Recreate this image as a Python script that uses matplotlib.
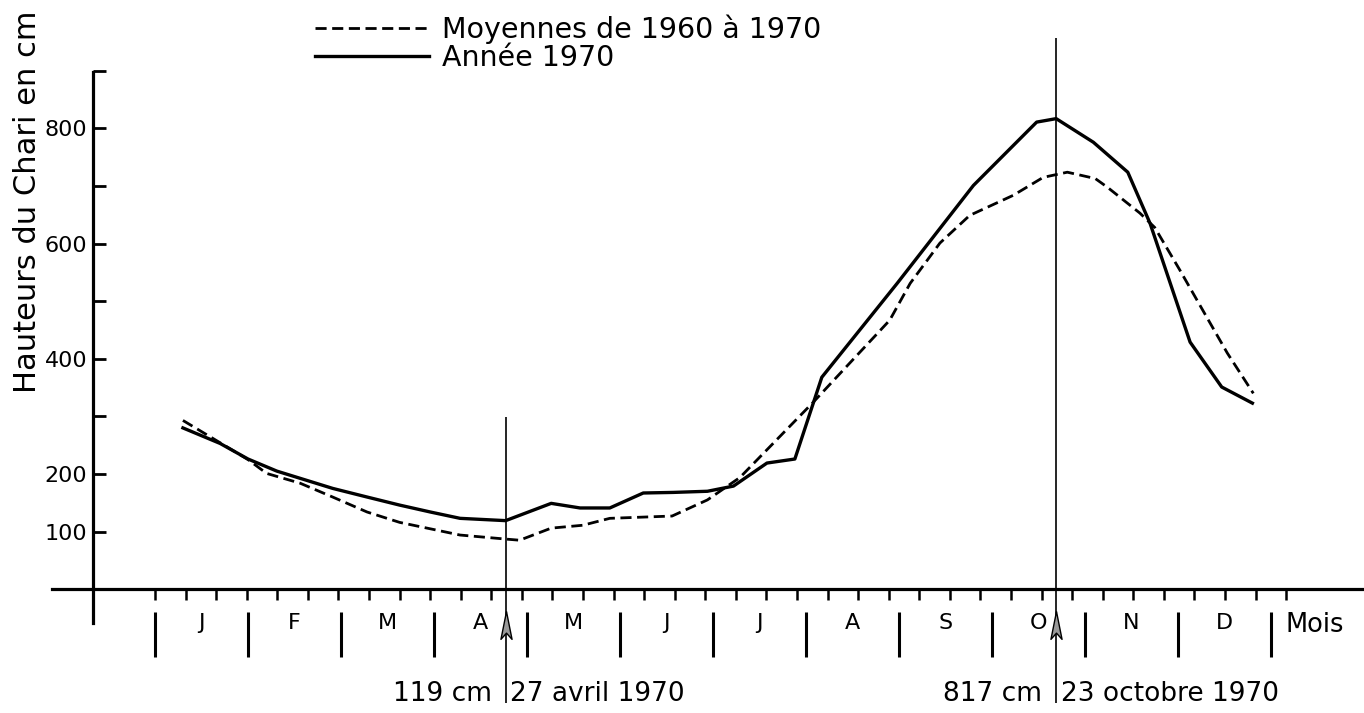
import matplotlib.pyplot as plt
import numpy as np

##### valeurs (x en mois depuis le 1er janvier, hauteurs en cm)
mois = ['J', 'F', 'M', 'A', 'M', 'J', 'J', 'A', 'S', 'O', 'N', 'D']

# Annee 1970 (trait plein)
an_x = [0.30, 0.70, 1.00, 1.31, 1.91, 2.28, 2.63, 2.96, 3.28, 3.77, 4.26, 4.57,
        4.89, 5.25, 5.57, 5.94, 6.22, 6.58, 6.88, 7.17, 7.98, 8.80, 9.48, 9.69,
        10.09, 10.46, 10.70, 11.13, 11.47, 11.80]
an_h = [280, 253, 226, 205, 175, 160, 146, 134, 123, 119, 149, 141,
        141, 167, 168, 170, 179, 219, 226, 368, 531, 701, 811, 817,
        776, 724, 635, 429, 351, 323]

# Moyennes de 1960 a 1970 (tirets)
moy_x = [0.30, 0.62, 1.00, 1.20, 1.56, 1.91, 2.28, 2.63, 3.28, 3.77, 3.92, 4.26,
         4.60, 4.89, 5.56, 5.94, 6.29, 7.08, 7.90, 8.12, 8.44, 8.76, 9.23, 9.55,
         9.81, 10.11, 10.24, 10.59, 10.75, 11.02, 11.31, 11.53, 11.81]
moy_h = [293, 262, 225, 201, 184, 160, 134, 116, 94, 87, 85, 106,
         111, 123, 127, 155, 194, 325, 467, 531, 601, 649, 684, 715,
         724, 713, 698, 653, 628, 554, 472, 410, 340]

# minimum et maximum de l'annee 1970
dates_x = [3.77, 9.69]
dates_cm = ['119 cm', '817 cm']
dates_txt = ['27 avril 1970', '23 octobre 1970']

yticks = [100, 200, 300, 400, 500, 600, 700, 800, 900]
ylabels = ['100', '200', '', '400', '', '600', '', '800', '']
##########################################################

fig = plt.figure(figsize=(13.64, 7.13), dpi=100)
ax = fig.add_axes([0, 0, 1, 1])
ax.set_xlim(-1.667, 13.0)
ax.set_ylim(-215, 1023)

# courbes
l1, = ax.plot(moy_x, moy_h, color='k', lw=2.0, ls=(0, (4, 2)),
              label='Moyennes de 1960 à 1970')
l2, = ax.plot(an_x, an_h, color='k', lw=2.4, label='Année 1970')

# axes en croix
for s in ['top', 'right']:
    ax.spines[s].set_visible(False)
ax.spines['left'].set_position(('data', -0.667))
ax.spines['left'].set_bounds(-59, 898)
ax.spines['bottom'].set_position(('data', 0))
ax.spines['bottom'].set_bounds(-1.108, 13.0)
ax.spines['left'].set_linewidth(2.3)
ax.spines['bottom'].set_linewidth(2.3)

ax.set_yticks(yticks)
ax.set_yticklabels(ylabels)
ax.tick_params(axis='y', direction='in', length=9, width=2, pad=4, labelsize=16)

# mois sous l'axe, petits traits tous les 10 jours
ax.set_xticks(np.arange(12) + 0.5)
ax.set_xticklabels(mois)
ax.set_xticks(np.arange(0, 371, 10) / 30.42, minor=True)
ax.tick_params(axis='x', which='major', length=0, pad=17, labelsize=16)
ax.tick_params(axis='x', which='minor', direction='out', length=8, width=1.8)
ax.vlines(np.arange(13), -118, -40, color='k', lw=2.2)
ax.text(12.47, -62, 'Mois', fontsize=18.5, ha='center', va='center')

# lignes du minimum et du maximum
ax.vlines(dates_x[0], -198, 299, color='k', lw=1.2)
ax.vlines(dates_x[1], -198, 957, color='k', lw=1.2)
fleche = [(0, 1), (-0.4, -1), (0, -0.55), (0.4, -1), (0, 1)]
ax.plot(dates_x, [-62, -62], ls='none', marker=fleche, ms=20,
        mfc='#999999', mec='k', mew=1.0)
for x, c, t in zip(dates_x, dates_cm, dates_txt):
    ax.text(x - 0.15, -182, c, fontsize=19, ha='right', va='center')
    ax.text(x + 0.05, -182, t, fontsize=19, ha='left', va='center')

ax.text(-1.366, 340, 'Hauteurs du Chari en cm', rotation=90, fontsize=22,
        ha='center', va='bottom')

ax.legend(handles=[l1, l2], loc='upper left', bbox_to_anchor=(315 / 1364, 1 - 14 / 713),
          bbox_transform=fig.transFigure, frameon=False, borderpad=0,
          borderaxespad=0, handlelength=4.0, handletextpad=0.45,
          labelspacing=0.02, fontsize=20.5)

fig.savefig('out.png', dpi=100)
